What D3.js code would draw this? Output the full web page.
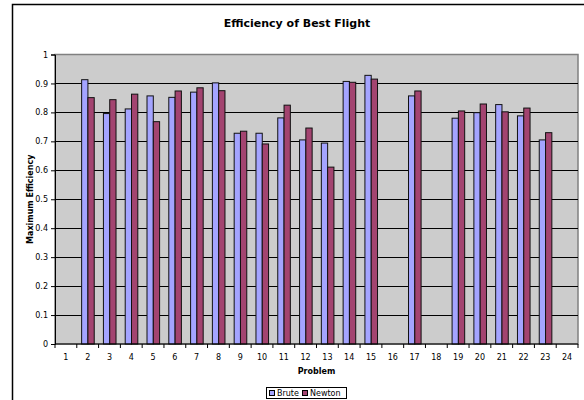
<!DOCTYPE html>
<html>
<head>
<meta charset="utf-8">
<script src="https://cdn.jsdelivr.net/npm/d3@7"></script>
<style>
  body { margin: 0; background: #fff; }
  text { font-family: "DejaVu Sans", Verdana, sans-serif; }
</style>
</head>
<body>
<svg id="chart" width="584" height="400"></svg>
<script>
const problems = d3.range(1, 25).map(String);
const seriesNames = ["Brute", "Newton"];
const bruteValues = [null, 0.913, 0.796, 0.812, 0.857, 0.852, 0.870, 0.902, 0.728, 0.728, 0.781, 0.705, 0.694, 0.907, 0.928, null, 0.857, null, 0.780, 0.799, 0.827, 0.788, 0.705, null];
const newtonValues = [null, 0.851, 0.844, 0.863, 0.768, 0.874, 0.885, 0.875, 0.735, 0.691, 0.825, 0.746, 0.611, 0.904, 0.915, null, 0.874, null, 0.805, 0.829, 0.802, 0.815, 0.730, null];
const yTicks = [0, 0.1, 0.2, 0.3, 0.4, 0.5, 0.6, 0.7, 0.8, 0.9, 1];
const colors = { Brute: "#a4a4ff", Newton: "#a34470" };

const svg = d3.select("#chart");
const L = 55, R = 578, T = 54.5, B = 344;

// outer chart border
svg.append("rect").attr("x", 12.5).attr("y", 4.5).attr("width", 600).attr("height", 420)
  .attr("fill", "#fff").attr("stroke", "#000").attr("stroke-width", 1.5);

// title
svg.append("text").attr("x", 297).attr("y", 27).attr("text-anchor", "middle")
  .attr("font-size", 11).attr("font-weight", "bold").text("Efficiency of Best Flight");

const x0 = d3.scaleBand().domain(problems).range([L, R]).padding(0);
const bw = x0.bandwidth();
const x1 = d3.scaleBand().domain(seriesNames).range([bw * 0.222, bw * 0.80]).padding(0);
const y = d3.scaleLinear().domain([0, 1]).range([B, T]);

// plot area
svg.append("rect").attr("x", L).attr("y", T).attr("width", R - L).attr("height", B - T)
  .attr("fill", "#cccccc").attr("stroke", "#808080").attr("stroke-width", 1.5);

// gridlines
svg.append("g").selectAll("line").data(yTicks.filter(v => v > 0 && v < 1)).join("line")
  .attr("x1", L).attr("x2", R).attr("y1", d => Math.round(y(d)) + 0.5).attr("y2", d => Math.round(y(d)) + 0.5)
  .attr("stroke", "#000").attr("stroke-width", 1);

// bars
const data = problems.map((p, i) => ({ p, vals: [
  { s: "Brute", v: bruteValues[i] }, { s: "Newton", v: newtonValues[i] } ] }));
const g = svg.append("g");
g.selectAll("g").data(data).join("g")
  .attr("transform", d => `translate(${x0(d.p)},0)`)
  .selectAll("rect").data(d => d.vals.filter(e => e.v != null)).join("rect")
  .attr("x", d => x1(d.s)).attr("width", x1.bandwidth())
  .attr("y", d => y(d.v)).attr("height", d => B - y(d.v))
  .attr("fill", d => colors[d.s]).attr("stroke", "#111").attr("stroke-width", 1);

// y axis
const yAxis = d3.axisLeft(y).tickValues(yTicks).tickSize(4).tickPadding(3)
  .tickFormat(d => d === 0 ? "0" : d === 1 ? "1" : d3.format(".1f")(d));
const ya = svg.append("g").attr("transform", `translate(${L},0)`).call(yAxis);
ya.select(".domain").attr("stroke", "#000");
ya.selectAll("text").attr("font-size", 8).attr("fill", "#000")
  .attr("font-family", "DejaVu Sans, Verdana, sans-serif");

// x axis
const xa = svg.append("g").attr("transform", `translate(0,${B})`);
xa.append("line").attr("x1", L).attr("x2", R).attr("y1", 0).attr("y2", 0).attr("stroke", "#000");
const bounds = problems.map(p => x0(p)).concat([R]);
xa.selectAll("line.tk").data(bounds).join("line").attr("class", "tk")
  .attr("x1", d => d).attr("x2", d => d).attr("y1", 0).attr("y2", 4).attr("stroke", "#000");
xa.selectAll("text").data(problems).join("text")
  .attr("x", d => x0(d) + bw / 2).attr("y", 16).attr("text-anchor", "middle")
  .attr("font-size", 8).text(d => d);

// axis titles
svg.append("text").attr("x", L + (R - L) / 2).attr("y", 374).attr("text-anchor", "middle")
  .attr("font-size", 8).attr("font-weight", "bold").text("Problem");
svg.append("text").attr("transform", `translate(33,${(T + B) / 2}) rotate(-90)`)
  .attr("text-anchor", "middle").attr("font-size", 8).attr("font-weight", "bold")
  .text("Maximum Efficiency");

// legend
const lg = svg.append("g").attr("transform", "translate(266,387)");
lg.append("rect").attr("x", 0.5).attr("y", 0.5).attr("width", 80).attr("height", 11)
  .attr("fill", "#fff").attr("stroke", "#000");
const items = lg.selectAll("g").data(seriesNames).join("g")
  .attr("transform", (d, i) => `translate(${i === 0 ? 3 : 36},0)`);
items.append("rect").attr("x", 0.5).attr("y", 3.5).attr("width", 5).attr("height", 5)
  .attr("fill", d => colors[d]).attr("stroke", "#000");
items.append("text").attr("x", 8).attr("y", 9).attr("font-size", 8).text(d => d);
</script>
</body>
</html>
